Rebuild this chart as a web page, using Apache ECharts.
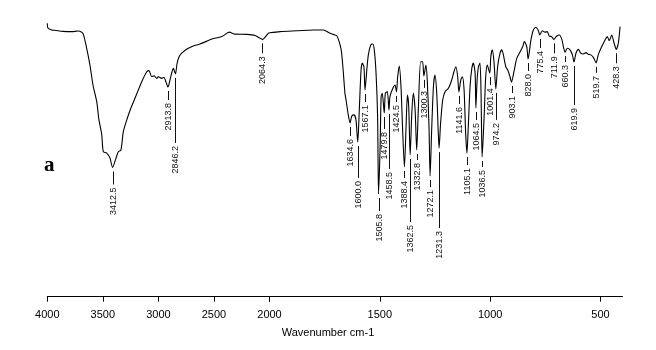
<!DOCTYPE html>
<html>
<head>
<meta charset="utf-8">
<script src="https://cdn.jsdelivr.net/npm/echarts@6/dist/echarts.min.js"></script>
<style>
  html, body { margin: 0; padding: 0; background: #fff; }
  #chart { width: 656px; height: 350px; }
</style>
</head>
<body>
<div id="chart"></div>
<script>
// FTIR spectrum: wavenumber (cm-1) against transmittance (%)
const wavenumbers = [
  4000, 3996, 3960, 3931, 3859, 3778, 3724, 3690, 3676, 3652, 3616, 3589, 3555, 3535, 3510, 3496,
  3465, 3436, 3412.5, 3382, 3361, 3337, 3316, 3280, 3247, 3211, 3150, 3105, 3085, 3060, 3037, 3015,
  3001, 2970, 2950, 2932, 2913.8, 2896, 2878, 2866, 2846.2, 2833, 2815, 2790, 2743, 2686, 2626, 2506,
  2428, 2362, 2311, 2205, 2130, 2064.3, 2011, 2000,
  1952, 1877, 1801, 1756, 1726, 1711, 1695, 1680, 1673, 1665, 1658, 1653, 1643, 1634.6, 1627, 1617,
  1608, 1600.0, 1593, 1585, 1579, 1572, 1567.1, 1559, 1552, 1541, 1532, 1525, 1517, 1510, 1505.8, 1499,
  1494, 1489, 1479.8, 1475, 1466, 1458.5, 1454, 1441, 1431, 1424.5, 1419, 1412, 1404, 1396, 1388.4, 1381,
  1375, 1369, 1362.5, 1355, 1348, 1340, 1332.8, 1325, 1315, 1306, 1300.3, 1291, 1285, 1277, 1272.1, 1265,
  1257, 1250, 1242, 1235, 1231.3, 1225, 1215, 1204, 1189, 1174, 1164, 1155, 1147, 1141.6, 1133, 1126,
  1118, 1111, 1105.1, 1099, 1091, 1083, 1076, 1068, 1064.5, 1059, 1053, 1046, 1041, 1036.5, 1032, 1026,
  1020, 1013, 1001.4, 997, 990, 982, 974.2, 966, 955, 947, 940, 929, 920, 910, 903.1, 892,
  879, 864, 852, 845, 834, 828.0, 815, 804, 793, 781, 775.4, 763, 751, 741, 732, 721,
  711.9, 698, 686, 675, 668, 660.3, 650, 638, 627, 619.9, 611, 600, 589, 578, 565, 555,
  544, 532, 519.7, 510, 494, 479, 469, 460, 449, 438, 428.3, 419, 411
];
const transmittance = [
  98.8, 97.2, 96.4, 96.3, 95.9, 95.8, 96.0, 95.6, 94.9, 91.0, 83.7, 76.5, 70.5, 63.9, 58.6, 52.4,
  51.9, 50.1, 46.7, 50.0, 52.4, 53.0, 59.6, 64.5, 68.2, 71.7, 77.7, 81.3, 81.7, 79.5, 79.8, 78.9,
  79.5, 78.9, 79.3, 77.6, 75.8, 78.3, 81.2, 82.5, 80.5, 84.1, 86.6, 88.0, 89.5, 90.6, 91.3, 93.3,
  94.0, 95.6, 94.9, 94.8, 94.4, 93.0, 95.2, 95.4,
  95.8, 96.1, 96.4, 96.4, 95.2, 94.8, 94.3, 91.0, 88.0, 80.7, 73.5, 71.1, 65.7, 62.8, 65.3, 65.7,
  63.9, 55.9, 67.5, 81.9, 84.4, 83.1, 74.7, 81.9, 87.4, 91.0, 91.3, 89.2, 80.7, 65.1, 37.1, 53.0,
  72.3, 73.5, 66.4, 73.5, 74.1, 67.5, 72.3, 75.3, 76.5, 74.0, 79.5, 83.4, 75.9, 59.1, 46.9, 61.4,
  72.9, 68.7, 51.2, 66.4, 73.5, 67.5, 53.0, 68.7, 84.9, 84.9, 79.8, 83.7, 78.3, 61.4, 43.6, 60.2,
  75.9, 80.1, 73.5, 59.2, 53.7, 62.1, 71.1, 74.1, 75.3, 78.3, 81.3, 83.1, 79.5, 74.0, 78.3, 79.5,
  74.7, 59.2, 51.9, 61.4, 75.9, 82.5, 84.4, 80.7, 68.2, 78.3, 83.1, 84.4, 72.9, 50.5, 56.6, 67.5,
  79.5, 83.7, 80.8, 86.7, 89.2, 84.4, 75.1, 83.1, 88.0, 89.2, 87.4, 83.1, 81.9, 79.5, 77.6, 81.3,
  86.2, 88.5, 90.4, 92.2, 90.4, 85.9, 92.8, 96.4, 97.4, 96.1, 94.6, 96.1, 95.6, 95.8, 94.2, 94.0,
  93.0, 94.2, 94.6, 93.0, 90.4, 88.4, 89.8, 89.2, 87.4, 84.8, 88.0, 89.4, 88.0, 87.7, 88.2, 87.6,
  87.4, 86.5, 84.5, 87.4, 90.4, 92.8, 94.0, 92.5, 94.6, 91.6, 89.4, 91.6, 97.6
];

// Assigned band positions (cm-1)
const peakPositions = [
  3412.5, 2913.8, 2846.2, 2064.3, 1634.6, 1600.0, 1567.1, 1505.8, 1479.8, 1458.5, 1424.5, 1388.4,
  1362.5, 1332.8, 1300.3, 1272.1, 1231.3, 1141.6, 1105.1, 1064.5, 1036.5, 1001.4, 974.2, 903.1,
  828.0, 775.4, 711.9, 660.3, 619.9, 519.7, 428.3
];
const peakLabels = peakPositions.map(p => p.toFixed(1));

// Axis ticks (the axis has a 2x scale change at 2000 cm-1)
const highTicks = [4000, 3500, 3000, 2500, 2000];
const lowTicks = [2000, 1500, 1000, 500];
const lowTickLabels = [1500, 1000, 500];

// Layout: leader line length (px) under each band label
const leaderLength = [
  13, 9, 65, 10, 9, 32, 8, 13, 12, 55, 6, 7,
  63, 6, 8, 7, 76, 8, 8, 8, 6, 8, 27, 7,
  8, 9, 10, 6, 39, 6, 10
];

const FONT = '"Liberation Sans", Arial, sans-serif';

function seriesData(filter) {
  const out = [];
  wavenumbers.forEach((w, i) => { if (filter(w)) out.push([w, transmittance[i]]); });
  return out;
}
function peakData(filter) {
  const out = [];
  peakPositions.forEach((p, i) => {
    if (!filter(p)) return;
    const idx = wavenumbers.indexOf(p);
    out.push([p, transmittance[idx], i]);
  });
  return out;
}

function renderPeak(params, api) {
  const i = api.value(2);
  const pt = api.coord([api.value(0), api.value(1)]);
  const x = Math.round(pt[0]) + 0.5;
  const y0 = pt[1] + 4;
  const y1 = y0 + leaderLength[i];
  return {
    type: 'group',
    children: [
      { type: 'line', shape: { x1: x, y1: y0, x2: x, y2: y1 },
        style: { stroke: '#111', lineWidth: 1 } },
      { type: 'text', x: x + 0.5, y: y1 + 3, rotation: Math.PI / 2,
        style: { text: peakLabels[i], align: 'right', verticalAlign: 'middle',
                 font: '9px ' + FONT, fill: '#111' } }
    ]
  };
}

const axisCommon = {
  type: 'value',
  inverse: true,
  splitLine: { show: false },
  axisLine: { show: true, onZero: false, lineStyle: { color: '#000', width: 1 } },
  axisTick: { show: true, length: 5, lineStyle: { color: '#000' } },
  axisLabel: { color: '#000', fontSize: 11, fontFamily: FONT, margin: 13,
               formatter: v => String(v) }
};

const chart = echarts.init(document.getElementById('chart'), null, { renderer: 'canvas' });
chart.setOption({
  animation: false,
  backgroundColor: '#fff',
  grid: [
    { left: 47.3, top: 20, width: 222.2, height: 276.7 },
    { left: 269.5, top: 20, width: 353, height: 276.7 }
  ],
  xAxis: [
    Object.assign({}, axisCommon, {
      gridIndex: 0, min: 2000, max: 4000,
      axisTick: Object.assign({}, axisCommon.axisTick, { customValues: highTicks }),
      axisLabel: Object.assign({}, axisCommon.axisLabel, { customValues: highTicks })
    }),
    Object.assign({}, axisCommon, {
      gridIndex: 1, min: 400, max: 2000,
      axisTick: Object.assign({}, axisCommon.axisTick, { customValues: lowTicks }),
      axisLabel: Object.assign({}, axisCommon.axisLabel, { customValues: lowTickLabels })
    })
  ],
  yAxis: [
    { type: 'value', gridIndex: 0, min: 0, max: 100, show: false },
    { type: 'value', gridIndex: 1, min: 0, max: 100, show: false }
  ],
  series: [
    { type: 'line', xAxisIndex: 0, yAxisIndex: 0, data: seriesData(w => w >= 2000),
      symbol: 'none', smooth: 0.25, lineStyle: { color: '#000', width: 1.1 } },
    { type: 'line', xAxisIndex: 1, yAxisIndex: 1, data: seriesData(w => w <= 2000),
      symbol: 'none', smooth: 0.25, lineStyle: { color: '#000', width: 1.1 } },
    { type: 'custom', xAxisIndex: 0, yAxisIndex: 0, data: peakData(p => p >= 2000),
      renderItem: renderPeak, silent: true },
    { type: 'custom', xAxisIndex: 1, yAxisIndex: 1, data: peakData(p => p < 2000),
      renderItem: renderPeak, silent: true }
  ],
  graphic: [
    { type: 'text', left: 'center', top: 327,
      style: { text: 'Wavenumber cm-1', font: '11px ' + FONT, fill: '#000' } },
    { type: 'text', x: 44, y: 166,
      style: { text: 'a', font: 'bold 21px "Liberation Serif", "Times New Roman", serif',
               fill: '#000', verticalAlign: 'middle' } }
  ]
});
</script>
</body>
</html>
